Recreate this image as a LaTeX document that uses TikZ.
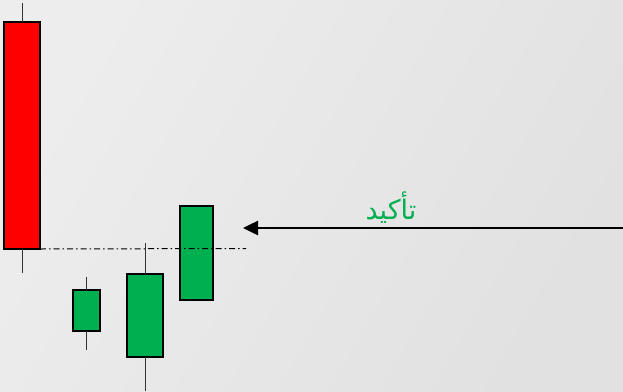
\documentclass[tikz,border=0pt]{standalone}
\usepackage{fontspec}
\newfontfamily\arabicfont[Script=Arabic]{DejaVu Sans}
\TeXXeTstate=1
\usetikzlibrary{arrows.meta}
\definecolor{candlered}{HTML}{FF0000}
\definecolor{candlegreen}{HTML}{00B050}
\definecolor{bgA}{HTML}{EDEDED}
\definecolor{bgB}{HTML}{E1E1E1}
\tikzset{
  body/.style={draw=black, line width=2pt, inner sep=0pt, outer sep=0pt},
  wick/.style={draw=black!80, line width=1pt},
}
\begin{document}
\begin{tikzpicture}[x=1pt,y=1pt]
\shade[left color=bgA, right color=bgB, shading angle=60] (0,0) rectangle (623,-391);
\useasboundingbox (0,0) rectangle (623,-391);
% red candle
\node[body, fill=candlered, minimum width=36pt, minimum height=227pt, anchor=north west] (r) at (4,-22) {};
\coordinate (rt) at (22,-3);
\coordinate (rb) at (22,-273);
\draw[wick] (r.north) -- (rt);
\draw[wick] (r.south) -- (rb);
% small green
\node[body, fill=candlegreen, minimum width=27pt, minimum height=41pt, anchor=north west] (g1) at (73,-290) {};
\coordinate (g1t) at (86.5,-277);
\coordinate (g1b) at (86.5,-350);
\draw[wick] (g1.north) -- (g1t);
\draw[wick] (g1.south) -- (g1b);
% middle green
\node[body, fill=candlegreen, minimum width=36pt, minimum height=83pt, anchor=north west] (g2) at (127,-274) {};
\coordinate (g2t) at (145,-243);
\coordinate (g2b) at (145,-391);
\draw[wick] (g2.north) -- (g2t);
\draw[wick] (g2.south) -- (g2b);
% right green
\node[body, fill=candlegreen, minimum width=33pt, minimum height=94pt, anchor=north west] (g3) at (180,-206) {};
% dash-dot line
\coordinate (ld) at (246,-248.5);
\draw[black, line width=1pt, dash pattern=on 6pt off 3pt on 1.5pt off 3pt] (r.south east) -- (ld);
% arrow
\coordinate (as) at (623,-228);
\coordinate (ae) at (243,-228);
\draw[line width=2.5pt, -{Triangle[length=15pt,width=14pt]}] (as) -- (ae);
\node[text=candlegreen, font=\arabicfont\fontsize{27}{30}\selectfont, anchor=base] (lbl) at (391,-219) {\beginR تأكيد\endR};
\end{tikzpicture}
\end{document}
